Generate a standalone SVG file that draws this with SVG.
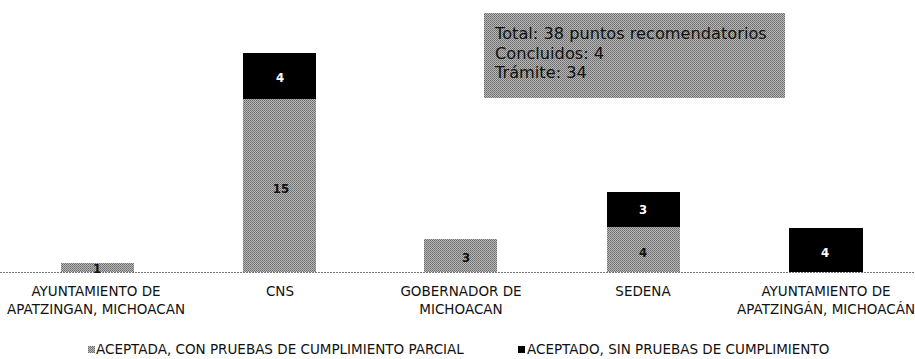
<svg xmlns="http://www.w3.org/2000/svg" width="915" height="359" viewBox="0 0 915 359">
<defs>
<pattern id="dither" width="2" height="2" patternUnits="userSpaceOnUse">
<rect width="2" height="2" fill="#b8b8b8"/>
<rect width="1" height="1" fill="#6a6a6a"/>
<rect x="1" y="1" width="1" height="1" fill="#7c7c7c"/>
</pattern>
</defs>
<style>
.g{fill:url(#dither)}
.k{fill:#000}
.lbl{font-family:"DejaVu Sans",sans-serif;font-size:13.5px;fill:#111;text-anchor:middle}
.vd{font-family:"DejaVu Sans Condensed","DejaVu Sans",sans-serif;font-size:13px;font-weight:bold;fill:#111;text-anchor:middle}
.vw{font-family:"DejaVu Sans Condensed","DejaVu Sans",sans-serif;font-size:13px;font-weight:bold;fill:#fff;text-anchor:middle}
.box{font-family:"DejaVu Sans",sans-serif;font-size:16.2px;fill:#111}
.leg{font-family:"DejaVu Sans",sans-serif;font-size:13.5px;fill:#111}
</style>
<rect width="915" height="359" fill="#fff"/>
<g id="axis">
<line x1="0" y1="272.5" x2="915" y2="272.5" stroke="#777" stroke-width="1" stroke-dasharray="2,1"/>
</g>
<g id="bar-ayuntamiento1">
<rect class="g" x="61" y="263" width="73" height="9"/>
<text class="vd" x="97" y="273">1</text>
<text class="lbl" x="96" y="296">AYUNTAMIENTO DE</text>
<text class="lbl" x="96" y="314">APATZINGAN, MICHOACAN</text>
</g>
<g id="bar-cns">
<rect class="g" x="243" y="99" width="73" height="173"/>
<rect class="k" x="243" y="53" width="73" height="46"/>
<text class="vw" x="280" y="82">4</text>
<text class="vd" x="281" y="193">15</text>
<text class="lbl" x="280" y="296">CNS</text>
</g>
<g id="bar-gobernador">
<rect class="g" x="424" y="239" width="73" height="33"/>
<text class="vd" x="466" y="262">3</text>
<text class="lbl" x="461" y="296">GOBERNADOR DE</text>
<text class="lbl" x="461" y="314">MICHOACAN</text>
</g>
<g id="bar-sedena">
<rect class="g" x="607" y="227" width="73" height="45"/>
<rect class="k" x="607" y="192" width="73" height="35"/>
<text class="vw" x="643" y="214">3</text>
<text class="vd" x="643" y="257">4</text>
<text class="lbl" x="643" y="296">SEDENA</text>
</g>
<g id="bar-ayuntamiento2">
<rect class="k" x="789" y="228" width="74" height="44"/>
<text class="vw" x="825" y="257">4</text>
<text class="lbl" x="826" y="296">AYUNTAMIENTO DE</text>
<text class="lbl" x="826" y="314">APATZINGÁN, MICHOACÁN</text>
</g>
<g id="summary">
<rect class="g" x="484" y="13" width="301" height="85"/>
<text class="box" x="495" y="39">Total: 38 puntos recomendatorios</text>
<text class="box" x="495" y="58.5">Concluidos: 4</text>
<text class="box" x="495" y="78">Trámite: 34</text>
</g>
<g id="legend">
<rect class="g" x="88" y="346" width="7" height="7"/>
<text class="leg" x="96" y="354">ACEPTADA, CON PRUEBAS DE CUMPLIMIENTO PARCIAL</text>
<rect class="k" x="518" y="346" width="7" height="7"/>
<text class="leg" x="527" y="354">ACEPTADO, SIN PRUEBAS DE CUMPLIMIENTO</text>
</g>
</svg>
